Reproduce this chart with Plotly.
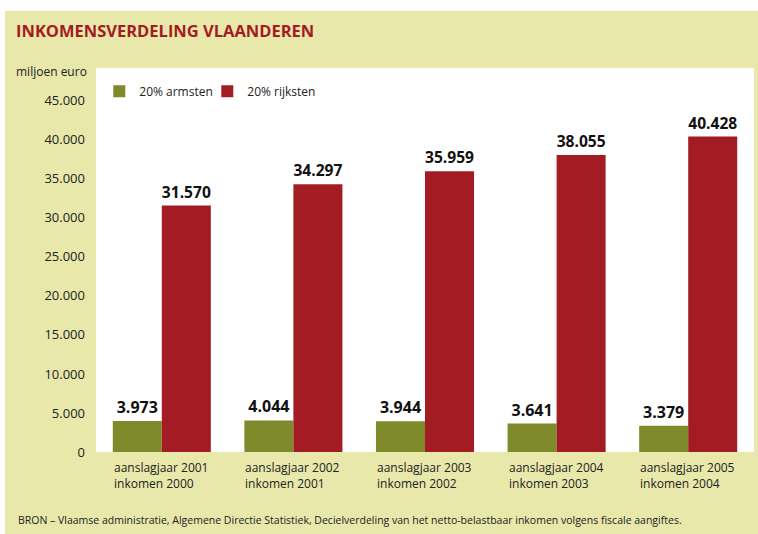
import plotly.graph_objects as go

categories = ["aanslagjaar 2001<br>inkomen 2000", "aanslagjaar 2002<br>inkomen 2001",
              "aanslagjaar 2003<br>inkomen 2002", "aanslagjaar 2004<br>inkomen 2003",
              "aanslagjaar 2005<br>inkomen 2004"]
armsten = [3973, 4044, 3944, 3641, 3379]
rijksten = [31570, 34297, 35959, 38055, 40428]
tick_vals = [0, 5000, 10000, 15000, 20000, 25000, 30000, 35000, 40000, 45000]
tick_text = ["0", "5.000", "10.000", "15.000", "20.000", "25.000", "30.000", "35.000", "40.000", "45.000"]

def fmt(v):
    return "<b>" + f"{v:,}".replace(",", ".") + "</b>"

BEIGE = "#E8E8AA"
GREEN = "#7F8A2A"
RED = "#A31C24"
FONT = "Open Sans"

W, H = 758, 534
L, R, T, B = 96, 4, 68, 82

fig = go.Figure()
xs = list(range(len(categories)))
fig.add_bar(x=xs, y=armsten, name="20% armsten", marker_color=GREEN,
            text=[fmt(v) for v in armsten], textposition="outside",
            textfont=dict(family=FONT, size=16, color="#111"), cliponaxis=False)
fig.add_bar(x=xs, y=rijksten, name="20% rijksten", marker_color=RED,
            text=[fmt(v) for v in rijksten], textposition="outside",
            textfont=dict(family=FONT, size=16, color="#111"), cliponaxis=False)

fig.update_traces(marker_line_width=0)

def px_to_paper_x(px):
    return (px - L) / (W - L - R)

def px_to_paper_y(py):
    return (H - B - py) / (H - T - B)

annotations = []
for i, c in enumerate(categories):
    annotations.append(dict(x=i, y=0, xref="x", yref="y", text=c, showarrow=False,
                            xanchor="left", yanchor="top", xshift=-50, yshift=-5,
                            align="left", font=dict(family=FONT, size=12, color="#222")))
annotations.append(dict(x=px_to_paper_x(14), y=px_to_paper_y(31),
                        xref="paper", yref="paper", showarrow=False,
                        text="<b>INKOMENSVERDELING VLAANDEREN</b>",
                        xanchor="left", yanchor="middle",
                        font=dict(family=FONT, size=16.5, color=RED)))
annotations.append(dict(x=px_to_paper_x(14), y=px_to_paper_y(72),
                        xref="paper", yref="paper", showarrow=False, text="miljoen euro",
                        xanchor="left", yanchor="middle",
                        font=dict(family=FONT, size=12, color="#222")))
annotations.append(dict(x=px_to_paper_x(16), y=px_to_paper_y(520),
                        xref="paper", yref="paper", showarrow=False,
                        text="BRON – Vlaamse administratie, Algemene Directie Statistiek, Decielverdeling van het netto-belastbaar inkomen volgens fiscale aangiftes.",
                        xanchor="left", yanchor="middle",
                        font=dict(family=FONT, size=10.5, color="#222")))

shapes = [
    dict(type="rect", xref="paper", yref="paper", layer="below",
         x0=px_to_paper_x(-5), x1=px_to_paper_x(W + 5), y0=px_to_paper_y(-5), y1=px_to_paper_y(11),
         fillcolor="white", line_width=0),
    dict(type="rect", xref="paper", yref="paper", layer="below",
         x0=px_to_paper_x(-5), x1=px_to_paper_x(5), y0=px_to_paper_y(H + 5), y1=px_to_paper_y(-5),
         fillcolor="white", line_width=0),
]

fig.update_layout(
    width=W, height=H,
    margin=dict(l=L, r=R, t=T, b=B, autoexpand=False),
    paper_bgcolor=BEIGE, plot_bgcolor="white",
    barmode="group", bargap=0.255, bargroupgap=0,
    showlegend=True,
    legend=dict(orientation="h", x=0.005, y=0.977, xanchor="left", yanchor="top",
                bgcolor="rgba(0,0,0,0)", font=dict(family=FONT, size=12, color="#222"),
                itemwidth=30, entrywidth=63, tracegroupgap=0),
    xaxis=dict(range=[-0.5, 4.5], showticklabels=False, showgrid=False, zeroline=False,
               showline=False, ticks=""),
    yaxis=dict(range=[0, 49200], tickvals=tick_vals, ticktext=tick_text, showgrid=False,
               zeroline=False, showline=False, ticks="", ticklabelstandoff=10,
               tickfont=dict(family=FONT, size=13, color="#222")),
    annotations=annotations, shapes=shapes,
    font=dict(family=FONT),
)

fig.write_html("out.html", config={"displayModeBar": False},
               post_script="document.body.style.margin='0';")
